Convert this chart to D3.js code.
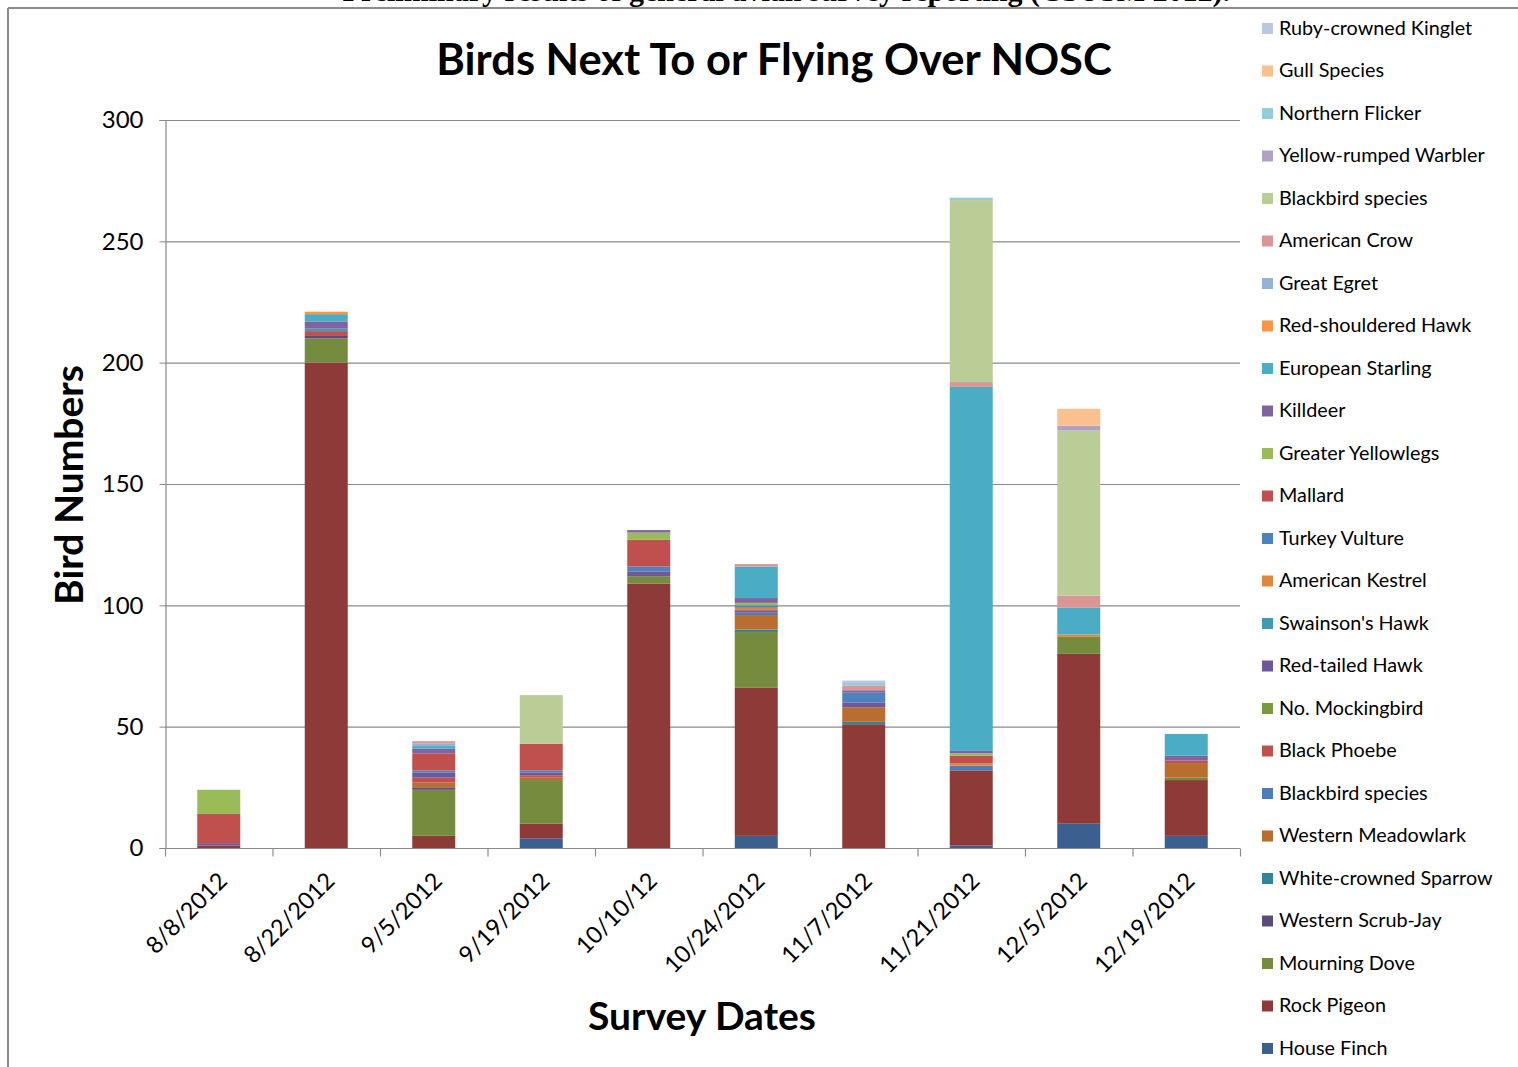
<!DOCTYPE html>
<html>
<head>
<meta charset="utf-8">
<script src="https://cdn.jsdelivr.net/npm/d3@7"></script>
<style>
  body { margin: 0; background: #fff; }
  svg { display: block; font-family: "Lato", "Open Sans", sans-serif; }
</style>
</head>
<body>
<svg width="1518" height="1067"></svg>
<script>
// survey dates (categories)
var dates = ["8/8/2012", "8/22/2012", "9/5/2012", "9/19/2012", "10/10/12",
             "10/24/2012", "11/7/2012", "11/21/2012", "12/5/2012", "12/19/2012"];

// species, stacked bottom -> top
var species = ["House Finch", "Rock Pigeon", "Mourning Dove", "Western Scrub-Jay",
  "White-crowned Sparrow", "Western Meadowlark", "Blackbird species", "Black Phoebe",
  "No. Mockingbird", "Red-tailed Hawk", "Swainson's Hawk", "American Kestrel",
  "Turkey Vulture", "Mallard", "Greater Yellowlegs", "Killdeer", "European Starling",
  "Red-shouldered Hawk", "Great Egret", "American Crow", "Blackbird species",
  "Yellow-rumped Warbler", "Northern Flicker", "Gull Species", "Ruby-crowned Kinglet"];

var colors = ["#3b5f8f", "#8e3a38", "#758c3f", "#5f4a7c", "#31849b", "#b96d2f",
  "#4a7ebb", "#c0504d", "#7a9a41", "#70579a", "#3f9ab2", "#e0873c",
  "#4f81bd", "#c0504d", "#9bbb59", "#8064a2", "#4bacc6", "#f79646",
  "#95b3d7", "#d99694", "#bacd96", "#b2a1c7", "#92cddc", "#fac090", "#b9c8e1"];

// counts per species, one value per date
var houseFinch      = [0, 0, 0, 4, 0, 5, 0, 1, 10, 5];
var rockPigeon      = [1, 200, 5, 6, 109, 61, 51, 31, 70, 23];
var mourningDove    = [0, 10, 19, 18, 3, 23, 0, 0, 7, 1];
var scrubJay        = [0, 1, 1, 0, 0, 0, 0, 0, 0, 0];
var wcSparrow       = [0, 0, 0, 0, 0, 1, 1, 0, 0, 0];
var meadowlark      = [0, 0, 2, 1, 0, 6, 6, 0, 0, 6];
var blackbird1      = [0, 0, 0, 0, 0, 1, 0, 2, 0, 0];
var blackPhoebe     = [0, 2, 2, 1, 0, 0, 0, 0, 0, 0];
var mockingbird     = [0, 0, 0, 0, 0, 0, 0, 0, 0, 0];
var redTailed       = [1, 0, 2, 1, 2, 1, 2, 0, 0, 0];
var swainsons       = [0, 1, 0, 0, 0, 0, 0, 0, 0, 0];
var kestrel         = [0, 0, 0, 0, 0, 1, 0, 1, 1, 0];
var turkeyVulture   = [0, 0, 1, 1, 2, 1, 4, 0, 0, 0];
var mallard         = [12, 0, 7, 11, 11, 0, 0, 3, 0, 1];
var yellowlegs      = [10, 0, 0, 0, 3, 1, 0, 1, 0, 0];
var killdeer        = [0, 3, 2, 0, 1, 2, 1, 1, 0, 2];
var starling        = [0, 3, 1, 0, 0, 13, 0, 150, 11, 9];
var redShouldered   = [0, 1, 0, 0, 0, 0, 0, 0, 0, 0];
var greatEgret      = [0, 0, 1, 0, 0, 0, 0, 0, 0, 0];
var crow            = [0, 0, 1, 0, 0, 1, 2, 2, 5, 0];
var blackbird2      = [0, 0, 0, 20, 0, 0, 0, 75, 68, 0];
var yrWarbler       = [0, 0, 0, 0, 0, 0, 0, 0, 2, 0];
var flicker         = [0, 0, 0, 0, 0, 0, 1, 1, 0, 0];
var gull            = [0, 0, 0, 0, 0, 0, 0, 0, 7, 0];
var kinglet         = [0, 0, 0, 0, 0, 0, 1, 0, 0, 0];

var yTicks = [0, 50, 100, 150, 200, 250, 300];

var series = [houseFinch, rockPigeon, mourningDove, scrubJay, wcSparrow, meadowlark,
  blackbird1, blackPhoebe, mockingbird, redTailed, swainsons, kestrel, turkeyVulture,
  mallard, yellowlegs, killdeer, starling, redShouldered, greatEgret, crow, blackbird2,
  yrWarbler, flicker, gull, kinglet];

var svg = d3.select("svg");
var margins = { top: 120, left: 165, right: 278, bottom: 219 };
var chartWidth = 1518 - margins.left - margins.right;
var chartHeight = 1067 - margins.top - margins.bottom;

// rows for d3.stack, keyed by series index (two "Blackbird species")
var rows = dates.map(function (d, i) {
  var row = { date: d };
  series.forEach(function (s, k) { row[k] = s[i]; });
  return row;
});
var keys = d3.range(series.length);
var stacked = d3.stack().keys(keys)(rows);

var xScale = d3.scaleBand().domain(dates).range([0, chartWidth])
  .paddingInner(0.6).paddingOuter(0.3);
var yScale = d3.scaleLinear().domain([0, 300]).range([chartHeight, 0]);

// frame of the page
svg.append("line").attr("x1", 8).attr("x2", 1518).attr("y1", 8).attr("y2", 8)
  .attr("stroke", "#8c8c8c").attr("stroke-width", 2);
svg.append("line").attr("x1", 8).attr("x2", 8).attr("y1", 8).attr("y2", 1067)
  .attr("stroke", "#8c8c8c").attr("stroke-width", 2);

// cut-off document caption above the chart
svg.append("text")
  .attr("x", 1230).attr("y", 1)
  .attr("text-anchor", "end")
  .style("font-family", "'Liberation Serif', serif")
  .style("font-weight", "bold")
  .style("font-size", "30px")
  .text("Preliminary results of general avian survey reporting (CSUSM 2012).");

var g = svg.append("g")
  .attr("transform", `translate(${margins.left}, ${margins.top})`);

// gridlines
g.append("g")
  .selectAll("line").data(yTicks.slice(1)).enter().append("line")
  .attr("x1", 0).attr("x2", chartWidth)
  .attr("y1", function (d) { return yScale(d) + 0.5; })
  .attr("y2", function (d) { return yScale(d) + 0.5; })
  .attr("stroke", "#8a8a8a").attr("stroke-width", 1.2);

// y axis
var yAxis = g.append("g")
  .attr("transform", "translate(0.5,0)")
  .call(d3.axisLeft(yScale).tickValues(yTicks).tickSize(6).tickPadding(16));
yAxis.select(".domain").attr("stroke", "#8a8a8a").attr("stroke-width", 1.2);
yAxis.selectAll(".tick line").attr("stroke", "#8a8a8a");
yAxis.selectAll("text").style("font-size", "24px").style("font-family", "Lato, sans-serif")
  .attr("fill", "#000");

// x axis: ticks between categories
var xAxisG = g.append("g").attr("transform", `translate(0, ${chartHeight + 0.5})`);
xAxisG.append("line").attr("x1", 0).attr("x2", chartWidth)
  .attr("stroke", "#8a8a8a").attr("stroke-width", 1.2);
var step = xScale.step();
xAxisG.selectAll(".sep").data(d3.range(dates.length + 1)).enter().append("line")
  .attr("class", "sep")
  .attr("x1", function (d) { return d * step + 0.5; })
  .attr("x2", function (d) { return d * step + 0.5; })
  .attr("y1", 0).attr("y2", 8)
  .attr("stroke", "#8a8a8a").attr("stroke-width", 1.2);
xAxisG.selectAll(".lbl").data(dates).enter().append("text")
  .attr("class", "lbl")
  .attr("transform", function (d) {
    var cx = xScale(d) + xScale.bandwidth() / 2 + 4;
    return `translate(${cx}, 28) rotate(-45)`;
  })
  .attr("text-anchor", "end")
  .attr("dy", "0.35em")
  .style("font-size", "23.5px")
  .text(function (d) { return d; });

// bars
var layers = g.append("g").selectAll("g").data(stacked).enter().append("g")
  .attr("fill", function (d) { return colors[d.key]; });
layers.selectAll("rect")
  .data(function (d) { return d; })
  .enter().append("rect")
  .attr("x", function (d) { return xScale(d.data.date); })
  .attr("width", xScale.bandwidth())
  .attr("y", function (d) { return yScale(d[1]); })
  .attr("height", function (d) { return yScale(d[0]) - yScale(d[1]); });

// titles
svg.append("text")
  .attr("x", 774).attr("y", 75)
  .attr("text-anchor", "middle")
  .style("font-weight", "bold").style("font-size", "43.5px")
  .text("Birds Next To or Flying Over NOSC");

svg.append("text")
  .attr("transform", "translate(83, 485) rotate(-90)")
  .attr("text-anchor", "middle")
  .style("font-weight", "bold").style("font-size", "39px")
  .text("Bird Numbers");

svg.append("text")
  .attr("x", 702).attr("y", 1030)
  .attr("text-anchor", "middle")
  .style("font-weight", "bold").style("font-size", "39px")
  .text("Survey Dates");

// legend, top item is the last series
var legendOrder = keys.slice().reverse();
var legendY = d3.scalePoint().domain(legendOrder).range([28, 1048]);
var legend = svg.append("g").selectAll("g").data(legendOrder).enter().append("g")
  .attr("transform", function (k) { return `translate(1262, ${legendY(k)})`; });
legend.append("rect")
  .attr("x", 0).attr("y", -5).attr("width", 11).attr("height", 11)
  .attr("fill", function (k) { return colors[k]; });
legend.append("text")
  .attr("x", 17).attr("dy", "0.35em")
  .style("font-size", "19.8px")
  .text(function (k) { return species[k]; });
</script>
</body>
</html>
